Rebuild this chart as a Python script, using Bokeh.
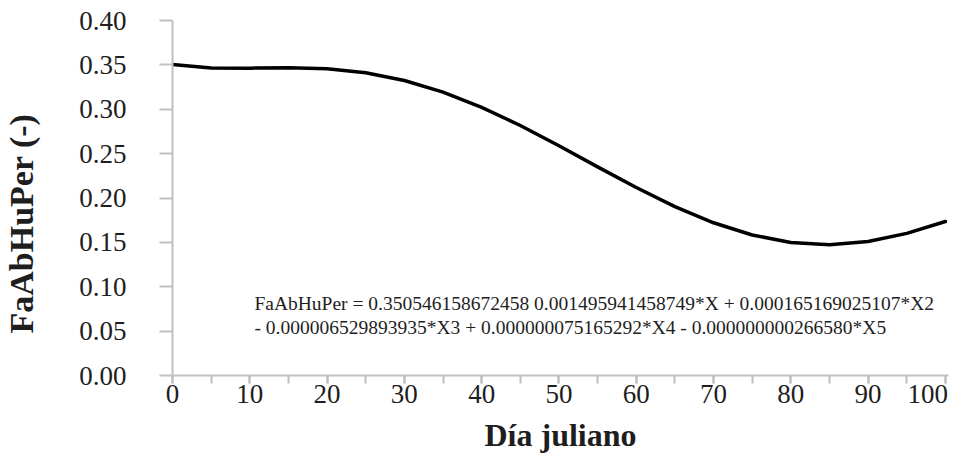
from bokeh.plotting import figure
from bokeh.models import Range1d, SingleIntervalTicker, Label, NumeralTickFormatter
from bokeh.embed import file_html
from bokeh.resources import INLINE

# Data
dia_juliano = [0, 5, 10, 15, 20, 25, 30, 35, 40, 45, 50,
               55, 60, 65, 70, 75, 80, 85, 90, 95, 100]
faabhuper = [0.3505, 0.3464, 0.3463, 0.3468, 0.3456, 0.3411, 0.3324, 0.3193,
             0.3022, 0.2817, 0.2589, 0.2351, 0.2118, 0.1903, 0.1721, 0.1583,
             0.1499, 0.1474, 0.1510, 0.1601, 0.1735]

x_label = "Día juliano"
y_label = "FaAbHuPer (-)"
eq_line1 = "FaAbHuPer = 0.350546158672458 0.001495941458749*X + 0.000165169025107*X2"
eq_line2 = "- 0.000006529893935*X3 + 0.000000075165292*X4 - 0.000000000266580*X5"

FONT = "Liberation Serif"
TXT = "#1e1e1e"
AX = "#c0c0c0"

p = figure(width=961, height=458, output_backend="svg", toolbar_location=None,
           x_range=Range1d(0, 100.4), y_range=Range1d(0, 0.40),
           min_border_left=171, min_border_right=13, min_border_top=20,
           min_border_bottom=83, background_fill_color="white",
           border_fill_color="white")
p.outline_line_color = None
p.grid.visible = False

p.line(dia_juliano, faabhuper, line_color="black", line_width=3.5,
       line_join="round", line_cap="round")

# x axis
xa = p.xaxis[0]
xa.ticker = SingleIntervalTicker(interval=10, num_minor_ticks=2)
xa.major_label_overrides = {100: "100\u2007"}
xa.axis_line_color = AX
xa.axis_line_width = 2
xa.major_tick_line_color = AX
xa.minor_tick_line_color = AX
xa.major_tick_line_width = 2
xa.minor_tick_line_width = 2
xa.major_tick_in = 0
xa.minor_tick_in = 0
xa.major_tick_out = 8
xa.minor_tick_out = 8
xa.major_label_standoff = -5
xa.major_label_text_font = FONT
xa.major_label_text_font_size = "27px"
xa.major_label_text_color = TXT
xa.axis_label = x_label
xa.axis_label_text_font = FONT
xa.axis_label_text_font_size = "32px"
xa.axis_label_text_font_style = "bold"
xa.axis_label_text_color = TXT
xa.axis_label_standoff = 5

# y axis
ya = p.yaxis[0]
ya.ticker = SingleIntervalTicker(interval=0.05, num_minor_ticks=0)
ya.formatter = NumeralTickFormatter(format="0.00")
ya.axis_line_color = AX
ya.axis_line_width = 2
ya.major_tick_line_color = AX
ya.major_tick_line_width = 2
ya.minor_tick_line_color = None
ya.major_tick_in = 0
ya.major_tick_out = 13
ya.major_label_standoff = 33
ya.major_label_text_font = FONT
ya.major_label_text_font_size = "27px"
ya.major_label_text_color = TXT
ya.axis_label = y_label + "\u2007\u2007\u2007"
ya.axis_label_text_font = FONT
ya.axis_label_text_font_size = "34px"
ya.axis_label_text_font_style = "bold"
ya.axis_label_text_color = TXT
ya.axis_label_standoff = 36

for txt, yv in ((eq_line1, 0.0811), (eq_line2, 0.0541)):
    p.add_layout(Label(x=10.6, y=yv, text=txt, text_font=FONT,
                       text_font_size="19.5px", text_color=TXT,
                       text_baseline="alphabetic", text_align="left"))

open("out.html", "w").write(file_html(p, INLINE))
